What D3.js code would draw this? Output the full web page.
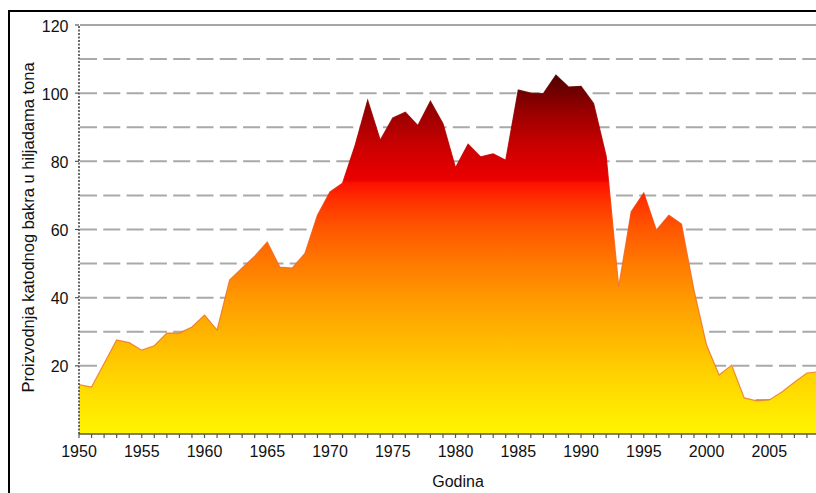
<!DOCTYPE html>
<html><head><meta charset="utf-8">
<script src="https://cdn.jsdelivr.net/npm/d3@7"></script>
<style>body{margin:0;background:#fff}svg{display:block}</style>
</head><body>
<svg id="c" width="816" height="493"></svg>
<script>
const years = d3.range(1950, 2010);
const production = [14.5,13.8,20.7,27.6,26.8,24.6,25.9,29.6,29.6,31.4,
  34.9,30.5,45.2,48.7,52.2,56.3,49.0,48.7,53.0,64.2,
  71.0,73.6,84.7,97.9,86.2,92.7,94.4,90.5,97.6,91.0,
  78.1,85.0,81.3,82.2,80.3,100.9,100.0,99.9,105.3,101.8,
  102.0,97.0,81.5,43.2,65.2,70.7,59.8,64.2,61.6,42.2,
  26.1,17.3,20.2,10.6,9.7,10.0,12.3,15.2,17.9,18.3];
const xTickLabels = [1950,1955,1960,1965,1970,1975,1980,1985,1990,1995,2000,2005];
const yTickLabels = [20,40,60,80,100,120];
const gridValues = [10,20,30,40,50,60,70,80,90,100,110];
const yTitle = "Proizvodnja katodnog bakra u hiljadama tona";
const xTitle = "Godina";

const svg = d3.select("#c");
const x = d3.scaleLinear().domain([1950, 2009]).range([79, 819.5]);
const y = d3.scaleLinear().domain([0, 120]).range([434, 25]);
const data = years.map((yr, i) => ({yr, v: production[i]}));
const font = "Liberation Sans, Arial, sans-serif";

// frame
svg.append("rect").attr("x", 9).attr("y", 11).attr("width", 830).attr("height", 500)
  .attr("fill", "none").attr("stroke", "#000").attr("stroke-width", 2);

// gradient
const defs = svg.append("defs");
const g = defs.append("linearGradient").attr("id", "fillG")
  .attr("gradientUnits", "userSpaceOnUse")
  .attr("x1", 0).attr("x2", 0).attr("y1", y(0)).attr("y2", y(106));
const stops = [[0,"#fff500"],[10,"#ffe200"],[20,"#ffcc00"],[30,"#ffb300"],[40,"#ff9900"],
  [50,"#ff7a00"],[60,"#ff5800"],[68,"#ff3400"],[73.5,"#ff1200"],[74.5,"#ec0000"],
  [85,"#c80000"],[95,"#960000"],[106,"#4a0000"]];
stops.forEach(([v,c]) => g.append("stop").attr("offset", v/106).attr("stop-color", c));
const gs = defs.append("linearGradient").attr("id", "strokeG")
  .attr("gradientUnits", "userSpaceOnUse")
  .attr("x1", 0).attr("x2", 0).attr("y1", y(0)).attr("y2", y(106));
[[0,"#e88030"],[55,"#ee6a20"],[70,"#f03000"],[76,"#d80000"],[95,"#900000"],[106,"#480000"]]
  .forEach(([v,c]) => gs.append("stop").attr("offset", v/106).attr("stop-color", c));

// grid
svg.append("g").selectAll("line").data(gridValues).join("line")
  .attr("x1", 80).attr("x2", 816).attr("y1", d => y(d)).attr("y2", d => y(d))
  .attr("stroke", "#a9a9a9").attr("stroke-width", 2).attr("stroke-dasharray", "17,6.3");
svg.append("line").attr("x1", 80).attr("x2", 816).attr("y1", y(120)).attr("y2", y(120))
  .attr("stroke", "#a6a6a6").attr("stroke-width", 2);

// area
const area = d3.area().x(d => x(d.yr)).y0(y(0)).y1(d => y(d.v));
svg.append("path").datum(data).attr("d", area).attr("fill", "url(#fillG)");
const line = d3.line().x(d => x(d.yr)).y(d => y(d.v));
svg.append("path").datum(data).attr("d", line).attr("fill", "none")
  .attr("stroke", "url(#strokeG)").attr("stroke-width", 1.2).attr("stroke-opacity", 0.85);

// x axis
const xa = svg.append("g").attr("transform", `translate(0,${y(0)})`);
xa.append("line").attr("x1", x(1950)).attr("x2", 816).attr("stroke", "#5c5a30").attr("stroke-width", 1.5);
xa.selectAll("line.t").data(d3.range(1950, 2010)).join("line").attr("class", "t")
  .attr("x1", d => x(d)).attr("x2", d => x(d)).attr("y1", 0).attr("y2", 4)
  .attr("stroke", "#555").attr("stroke-width", 1.2);
xa.selectAll("text").data(xTickLabels).join("text")
  .attr("x", d => x(d)).attr("y", 23).attr("text-anchor", "middle")
  .attr("font-family", font).attr("font-size", 16).attr("fill", "#111")
  .text(d => d);

// y axis
const ya = svg.append("g");
ya.append("line").attr("x1", 79).attr("x2", 79).attr("y1", y(0)).attr("y2", y(120))
  .attr("stroke", "#444").attr("stroke-width", 1.6).attr("stroke-dasharray", "2,1.5");
ya.selectAll("line.t").data(yTickLabels).join("line").attr("class", "t")
  .attr("x1", 75).attr("x2", 79).attr("y1", d => y(d)).attr("y2", d => y(d))
  .attr("stroke", "#555").attr("stroke-width", 1.2);
ya.selectAll("text").data(yTickLabels).join("text")
  .attr("x", 68.5).attr("y", d => y(d) + 6.5).attr("text-anchor", "end")
  .attr("font-family", font).attr("font-size", 16).attr("fill", "#111")
  .text(d => d);

// titles
svg.append("text").attr("transform", "translate(34,227.5) rotate(-90)")
  .attr("text-anchor", "middle").attr("font-family", font)
  .attr("font-size", 16.5).attr("fill", "#111").text(yTitle);
svg.append("text").attr("x", 458).attr("y", 487).attr("text-anchor", "middle")
  .attr("font-family", font)
  .attr("font-size", 16).attr("fill", "#111").text(xTitle);
</script>
</body></html>
